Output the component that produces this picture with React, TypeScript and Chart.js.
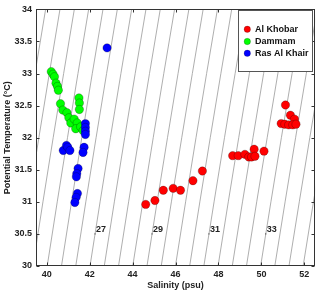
import React, { useEffect, useRef } from 'react';
import { Chart, registerables } from 'chart.js';
Chart.register(...registerables);

// ---- data ----
const alKhobarSalinity = [44.61, 45.04, 45.43, 45.89, 46.23, 46.81, 47.25, 48.66, 48.92, 49.23, 49.41, 49.54, 49.66, 49.70, 50.12, 51.12, 51.35, 51.54, 50.92, 51.09, 51.27, 51.46, 51.61];
const alKhobarTemp = [30.96, 31.02, 31.18, 31.21, 31.18, 31.33, 31.48, 31.72, 31.72, 31.74, 31.70, 31.70, 31.82, 31.71, 31.79, 32.51, 32.35, 32.29, 32.22, 32.21, 32.20, 32.20, 32.21];

const dammamSalinity = [40.21, 40.29, 40.36, 40.43, 40.50, 40.54, 40.64, 40.75, 40.94, 41.03, 41.12, 41.28, 41.42, 41.35, 41.58, 41.69, 41.50, 41.52, 41.52];
const dammamTemp = [33.03, 32.99, 32.95, 32.85, 32.80, 32.74, 32.53, 32.43, 32.39, 32.31, 32.23, 32.29, 32.23, 32.14, 32.17, 32.11, 32.62, 32.54, 32.44];

const rasAlKhairSalinity = [42.81, 41.80, 41.80, 41.80, 41.80, 40.77, 40.92, 40.98, 41.08, 41.74, 41.69, 41.46, 41.40, 41.38, 41.43, 41.37, 41.31];
const rasAlKhairTemp = [33.40, 32.22, 32.16, 32.10, 32.05, 31.80, 31.88, 31.85, 31.80, 31.85, 31.77, 31.52, 31.44, 31.39, 31.13, 31.07, 30.99];

const seriesLabels = ['Al Khobar', 'Dammam', 'Ras Al Khair'];
const seriesColors = ['#ff0000', '#00ff00', '#0000ff'];

// isopycnal (sigma) levels drawn as background contours
const sigmaLevels = [22, 22.5, 23, 23.5, 24, 24.5, 25, 25.5, 26, 26.5, 27, 27.5, 28, 28.5, 29, 29.5, 30, 30.5, 31, 31.5, 32, 32.5, 33, 33.5, 34, 34.5, 35, 35.5, 36];
const labeledLevels = [27, 29, 31, 33];
const labelTemp = 30.5;
const tempGrid = [29.5, 30, 31, 32, 33, 34, 34.5];

const xTicks = [40, 42, 44, 46, 48, 50, 52];
const yTicks = [30, 30.5, 31, 31.5, 32, 32.5, 33, 33.5, 34];

const FONT = "'Liberation Sans', Arial, Helvetica, sans-serif";
const AXIS_COLOR = '#333333';

// UNESCO EOS-80 density anomaly at p = 0
function sigmaT(S: number, T: number): number {
  const rw = 999.842594 + 6.793952e-2 * T - 9.09529e-3 * T ** 2 + 1.001685e-4 * T ** 3 - 1.120083e-6 * T ** 4 + 6.536332e-9 * T ** 5;
  const A = 8.24493e-1 - 4.0899e-3 * T + 7.6438e-5 * T ** 2 - 8.2467e-7 * T ** 3 + 5.3875e-9 * T ** 4;
  const B = -5.72466e-3 + 1.0227e-4 * T - 1.6546e-6 * T ** 2;
  const C = 4.8314e-4;
  return rw + A * S + B * Math.pow(S, 1.5) + C * S * S - 1000;
}
function salinityFor(sig: number, T: number): number {
  let lo = 0, hi = 80;
  for (let i = 0; i < 60; i++) {
    const mid = (lo + hi) / 2;
    if (sigmaT(mid, T) < sig) lo = mid; else hi = mid;
  }
  return (lo + hi) / 2;
}

const zip = (xs: number[], ys: number[]) => xs.map((x, i) => ({ x, y: ys[i] }));

const boxPlugin = {
  id: 'matlabBox',
  afterDraw(chart: any) {
    const { ctx, chartArea: a, scales } = chart;
    const xs = scales.x, ys = scales.y;
    ctx.save();
    // contour labels
    ctx.font = `bold 9px ${FONT}`;
    ctx.fillStyle = '#222';
    ctx.textAlign = 'left';
    ctx.textBaseline = 'middle';
    labeledLevels.forEach((lv) => {
      const px = xs.getPixelForValue(salinityFor(lv, labelTemp));
      const py = ys.getPixelForValue(labelTemp);
      ctx.fillRect(px - 0.5, py - 0.5, 1, 1);
      ctx.fillText(String(lv), px + 1, py - 4);
    });
    // box
    ctx.strokeStyle = AXIS_COLOR;
    ctx.lineWidth = 1;
    const L = Math.round(a.left) + 0.5, R = Math.round(a.right) - 0.5;
    const T = Math.round(a.top) + 0.5, B = Math.round(a.bottom) - 0.5;
    ctx.strokeRect(L, T, R - L, B - T);
    // inward ticks
    ctx.beginPath();
    xTicks.forEach((v) => {
      const p = Math.round(xs.getPixelForValue(v)) + 0.5;
      ctx.moveTo(p, B); ctx.lineTo(p, B - 3);
      ctx.moveTo(p, T); ctx.lineTo(p, T + 3);
    });
    yTicks.forEach((v) => {
      const p = Math.round(ys.getPixelForValue(v)) + 0.5;
      ctx.moveTo(L, p); ctx.lineTo(L + 3, p);
      ctx.moveTo(R, p); ctx.lineTo(R - 3, p);
    });
    ctx.stroke();
    // legend
    const lx = 238.5, ly = 10.5, lw = 74, lh = 61;
    ctx.fillStyle = '#ffffff';
    ctx.fillRect(lx, ly, lw, lh);
    ctx.strokeStyle = '#555555';
    ctx.strokeRect(lx, ly, lw, lh);
    const rows = [29.3, 41.5, 53.3];
    ctx.font = `bold 9px ${FONT}`;
    ctx.textAlign = 'left';
    ctx.textBaseline = 'middle';
    seriesLabels.forEach((lab, i) => {
      ctx.beginPath();
      ctx.arc(247.3, rows[i], 3.2, 0, Math.PI * 2);
      ctx.fillStyle = seriesColors[i];
      ctx.fill();
      ctx.lineWidth = 0.6;
      ctx.strokeStyle = 'rgba(0,0,0,0.35)';
      ctx.stroke();
      ctx.fillStyle = '#111';
      ctx.fillText(lab, 255, rows[i] + 0.5);
    });
    ctx.restore();
  },
};

export default function App() {
  const ref = useRef<HTMLCanvasElement>(null);
  useEffect(() => {
    document.body.style.margin = '0';
    const canvas = ref.current;
    if (!canvas) return;
    const scatterSets = [
      { s: alKhobarSalinity, t: alKhobarTemp, order: 2 },
      { s: dammamSalinity, t: dammamTemp, order: 1 },
      { s: rasAlKhairSalinity, t: rasAlKhairTemp, order: 0 },
    ].map((d, i) => ({
      label: seriesLabels[i],
      data: zip(d.s, d.t),
      backgroundColor: seriesColors[i],
      borderColor: 'rgba(0,0,0,0.35)',
      borderWidth: 0.7,
      pointRadius: 4.2,
      showLine: false,
      order: d.order,
    }));
    const isoSets = sigmaLevels.map((lv) => ({
      label: 'sigma ' + lv,
      data: tempGrid.map((T) => ({ x: salinityFor(lv, T), y: T })),
      showLine: true,
      pointRadius: 0,
      borderColor: '#999999',
      borderWidth: 0.8,
      fill: false,
      tension: 0,
      order: 3,
    }));
    const tickFont = { family: FONT, size: 9, weight: 'bold' as const };
    const chart = new Chart(canvas, {
      type: 'scatter',
      data: { datasets: [...scatterSets, ...isoSets] as any },
      options: {
        responsive: false,
        animation: false,
        devicePixelRatio: 1,
        events: [],
        layout: { padding: { top: 5, right: 3, left: 0, bottom: 0 } },
        plugins: { legend: { display: false }, tooltip: { enabled: false } },
        scales: {
          x: {
            type: 'linear',
            min: 39.5,
            max: 52.5,
            afterBuildTicks: (s: any) => { s.ticks = xTicks.map((v) => ({ value: v })); },
            afterFit: (s: any) => { s.height = 28; },
            grid: { display: false, drawTicks: false },
            border: { display: false },
            ticks: { font: tickFont, color: '#222', padding: 3, maxRotation: 0, autoSkip: false, callback: (v: any) => String(v) },
            title: { display: true, text: 'Salinity (psu)', font: tickFont, color: '#222', padding: { top: 0, bottom: 3 } },
          },
          y: {
            type: 'linear',
            min: 30,
            max: 34,
            afterBuildTicks: (s: any) => { s.ticks = yTicks.map((v) => ({ value: v })); },
            afterFit: (s: any) => { s.width = 36; },
            grid: { display: false, drawTicks: false },
            border: { display: false },
            ticks: { font: tickFont, color: '#222', padding: 4, autoSkip: false, callback: (v: any) => String(v) },
            title: { display: true, text: 'Potential Temperature (°C)', font: tickFont, color: '#222', padding: { top: 2.6, bottom: 0 } },
          },
        },
      } as any,
      plugins: [boxPlugin],
    });
    return () => chart.destroy();
  }, []);
  return (
    <div style={{ width: 320, height: 294 }}>
      <canvas ref={ref} width={320} height={294} style={{ display: 'block' }} />
    </div>
  );
}
